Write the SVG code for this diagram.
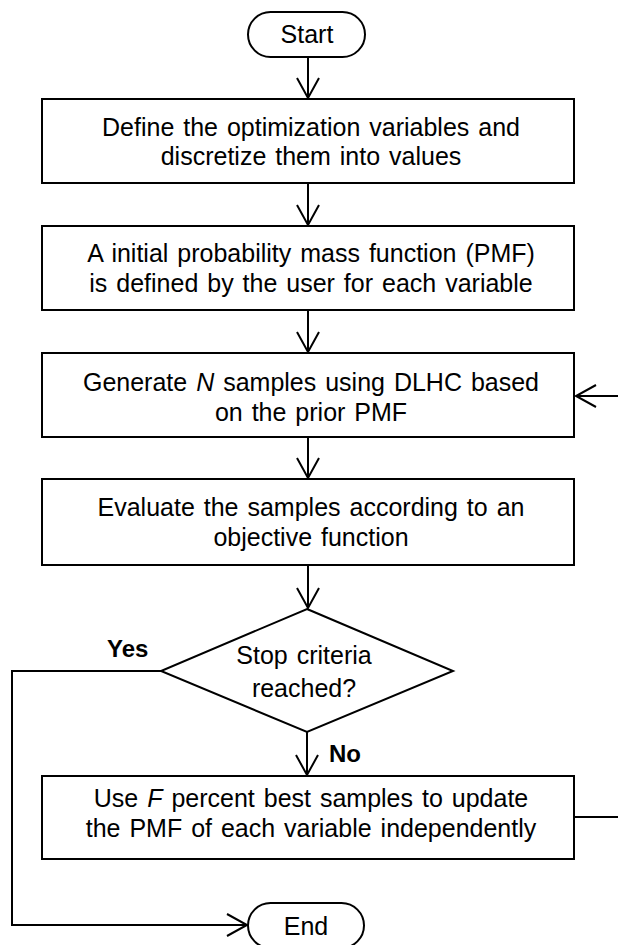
<svg xmlns="http://www.w3.org/2000/svg" width="618" height="945" viewBox="0 0 618 945">
<style>
.n{fill:#fff;stroke:#000;stroke-width:2}
.t{font-family:"Liberation Sans",Arial,sans-serif;font-size:25px;fill:#000;text-anchor:middle;word-spacing:2px}
.b{font-family:"Liberation Sans",Arial,sans-serif;font-size:24px;font-weight:bold;fill:#000}
.c{fill:none;stroke:#000;stroke-width:2}
</style>
<defs>
<marker id="ah" markerUnits="userSpaceOnUse" markerWidth="26" markerHeight="28" viewBox="-23 -14 26 28" refX="0" refY="0" orient="auto">
<path d="M-20,-11 L0,0 L-20,11" fill="none" stroke="#000" stroke-width="2"/>
</marker>
</defs>
<rect width="618" height="945" fill="#fff"/>
<g id="connectors">
<path class="c" d="M308,57 V98" marker-end="url(#ah)"/>
<path class="c" d="M308,183 V225" marker-end="url(#ah)"/>
<path class="c" d="M308,310 V352" marker-end="url(#ah)"/>
<path class="c" d="M308,437 V478" marker-end="url(#ah)"/>
<path class="c" d="M308,565 V608" marker-end="url(#ah)"/>
<path class="c" d="M307,732 V775" marker-end="url(#ah)"/>
<path class="c" d="M161,671 H12 V925 H247" marker-end="url(#ah)"/>
<path class="c" d="M574,817 H640 V396 H576" marker-end="url(#ah)"/>
<text class="b" x="107" y="657">Yes</text>
<text class="b" x="329" y="762">No</text>
</g>
<g id="start">
<rect class="n" x="248" y="12" width="117" height="45" rx="22.5"/>
<text class="t" x="307" y="43">Start</text>
</g>
<g id="define">
<rect class="n" x="42" y="99" width="532" height="84"/>
<text class="t" x="311" y="136">Define the optimization variables and</text>
<text class="t" x="311" y="165">discretize them into values</text>
</g>
<g id="initial">
<rect class="n" x="42" y="226" width="532" height="84"/>
<text class="t" x="311" y="262">A initial probability mass function (PMF)</text>
<text class="t" x="311" y="292">is defined by the user for each variable</text>
</g>
<g id="generate">
<rect class="n" x="42" y="353" width="532" height="84"/>
<text class="t" x="311" y="391">Generate <tspan font-style="italic">N</tspan> samples using DLHC based</text>
<text class="t" x="311" y="421">on the prior PMF</text>
</g>
<g id="evaluate">
<rect class="n" x="42" y="479" width="532" height="86"/>
<text class="t" x="311" y="516">Evaluate the samples according to an</text>
<text class="t" x="311" y="546">objective function</text>
</g>
<g id="stop">
<polygon class="n" points="307,609 453,671 307,732 161,671"/>
<text class="t" x="304" y="664">Stop criteria</text>
<text class="t" x="304" y="697">reached?</text>
</g>
<g id="update">
<rect class="n" x="42" y="776" width="532" height="83"/>
<text class="t" x="311" y="807">Use <tspan font-style="italic">F</tspan> percent best samples to update</text>
<text class="t" x="311" y="837">the PMF of each variable independently</text>
</g>
<g id="end">
<rect class="n" x="248" y="903" width="116" height="45" rx="22.5"/>
<text class="t" x="306" y="935">End</text>
</g>
</svg>
